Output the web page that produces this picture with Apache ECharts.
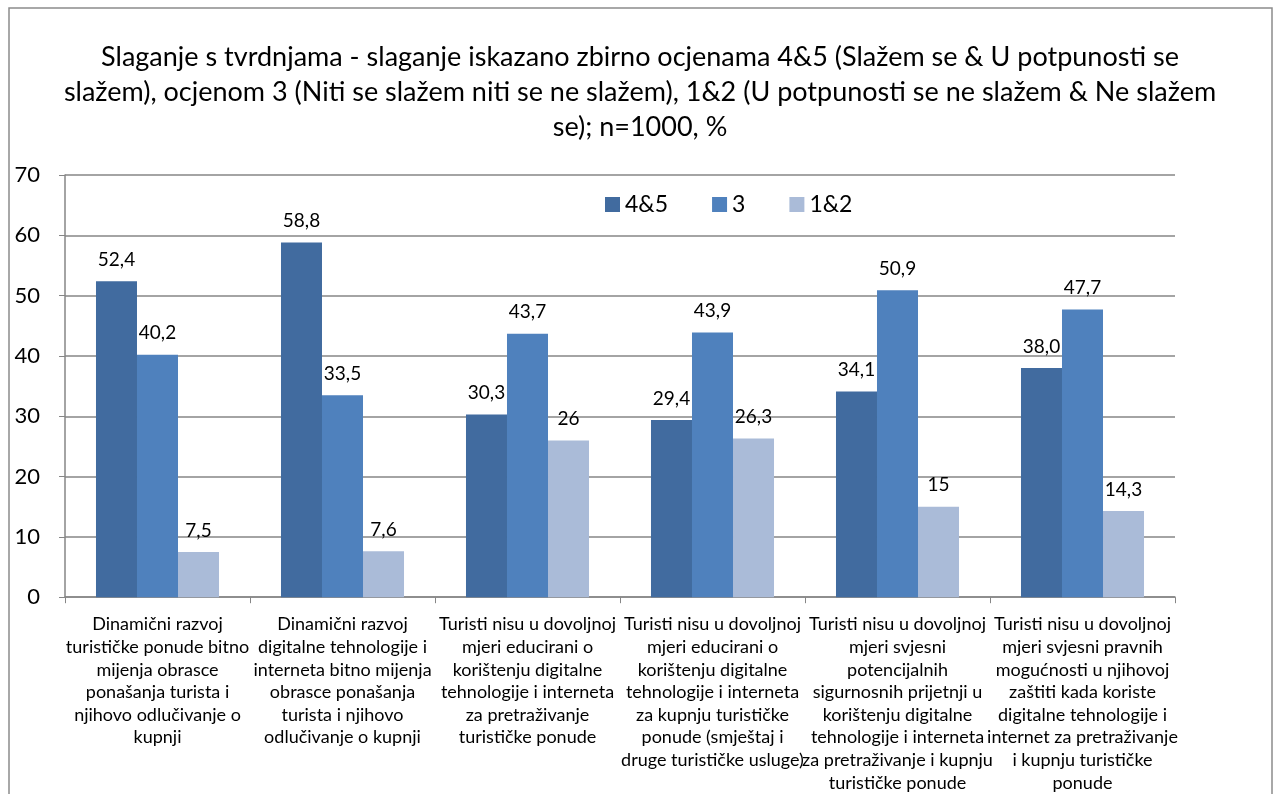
<!DOCTYPE html>
<html>
<head>
<meta charset="utf-8">
<script src="https://cdn.jsdelivr.net/npm/echarts@6/dist/echarts.min.js"></script>
<style>
  html, body { margin: 0; padding: 0; background: #fff; }
  #chart { width: 1280px; height: 794px; }
</style>
</head>
<body>
<div id="chart"></div>
<script>
// podaci s grafikona
const categories = [
  'Dinamični razvoj\nturističke ponude bitno\nmijenja obrasce\nponašanja turista i\nnjihovo odlučivanje o\nkupnji',
  'Dinamični razvoj\ndigitalne tehnologije i\ninterneta bitno mijenja\nobrasce ponašanja\nturista i njihovo\nodlučivanje o kupnji',
  'Turisti nisu u dovoljnoj\nmjeri educirani o\nkorištenju digitalne\ntehnologije i interneta\nza pretraživanje\nturističke ponude',
  'Turisti nisu u dovoljnoj\nmjeri educirani o\nkorištenju digitalne\ntehnologije i interneta\nza kupnju turističke\nponude (smještaj i\ndruge turističke usluge)',
  'Turisti nisu u dovoljnoj\nmjeri svjesni\npotencijalnih\nsigurnosnih prijetnji u\nkorištenju digitalne\ntehnologije i interneta\nza pretraživanje i kupnju\nturističke ponude',
  'Turisti nisu u dovoljnoj\nmjeri svjesni pravnih\nmogućnosti u njihovoj\nzaštiti kada koriste\ndigitalne tehnologije i\ninternet za pretraživanje\ni kupnju turističke\nponude'
];
const seriesNames = ['4&5', '3', '1&2'];
const values45 = [52.4, 58.8, 30.3, 29.4, 34.1, 38.0];
const values3 = [40.2, 33.5, 43.7, 43.9, 50.9, 47.7];
const values12 = [7.5, 7.6, 26, 26.3, 15, 14.3];
const labels45 = ['52,4', '58,8', '30,3', '29,4', '34,1', '38,0'];
const labels3 = ['40,2', '33,5', '43,7', '43,9', '50,9', '47,7'];
const labels12 = ['7,5', '7,6', '26', '26,3', '15', '14,3'];
const yTicks = { min: 0, max: 70, interval: 10 };

const FONT = 'Lato, "Open Sans", "Liberation Sans", sans-serif';
const colors = ['#416B9F', '#4F81BD', '#AABBD8'];

const chart = echarts.init(document.getElementById('chart'), null, { renderer: 'canvas' });

// pravi niz za jednu seriju
const makeSeries = (name, data, labels, color) => ({
  name: name,
  type: 'bar',
  data: data,
  barGap: '0%',
  barCategoryGap: '33.5%',
  itemStyle: { color: color },
  label: {
    show: true,
    position: 'top',
    distance: 12,
    fontFamily: FONT,
    fontSize: 19,
    color: '#000',
    formatter: (p) => labels[p.dataIndex]
  }
});

const option = {
  animation: false,
  textStyle: { fontFamily: FONT },
  graphic: [{
    type: 'rect',
    shape: { x: 9, y: 8, width: 1263, height: 800 },
    style: { fill: 'none', stroke: '#8c8c8c', lineWidth: 1.5 },
    silent: true
  }],
  title: {
    text: 'Slaganje s tvrdnjama - slaganje iskazano zbirno ocjenama 4&5 (Slažem se & U potpunosti se\nslažem), ocjenom 3 (Niti se slažem niti se ne slažem), 1&2 (U potpunosti se ne slažem & Ne slažem\nse); n=1000, %',
    left: 'center',
    top: 35,
    textStyle: {
      fontFamily: FONT,
      fontSize: 27,
      fontWeight: 'normal',
      color: '#000',
      lineHeight: 35,
      align: 'center'
    }
  },
  legend: {
    data: seriesNames,
    left: 600,
    top: 188,
    itemWidth: 15,
    itemHeight: 15,
    itemGap: 44,
    icon: 'rect',
    textStyle: { fontFamily: FONT, fontSize: 23, color: '#000' }
  },
  grid: { left: 65, right: 105, top: 175, bottom: 194 },
  xAxis: {
    type: 'category',
    data: categories,
    axisLine: { lineStyle: { color: '#868686', width: 1.5 } },
    axisTick: { show: true, length: 6, lineStyle: { color: '#868686' } },
    axisLabel: {
      interval: 0,
      margin: 16,
      fontFamily: FONT,
      fontSize: 18,
      lineHeight: 22.6,
      color: '#000',
      align: 'center'
    }
  },
  yAxis: {
    type: 'value',
    min: yTicks.min,
    max: yTicks.max,
    interval: yTicks.interval,
    axisLine: { show: true, lineStyle: { color: '#868686', width: 1.5 } },
    axisTick: { show: true, length: 6, lineStyle: { color: '#868686' } },
    splitLine: { lineStyle: { color: '#868686', width: 1.5 } },
    axisLabel: { fontFamily: FONT, fontSize: 22, color: '#000', margin: 25 }
  },
  series: [
    makeSeries(seriesNames[0], values45, labels45, colors[0]),
    makeSeries(seriesNames[1], values3, labels3, colors[1]),
    makeSeries(seriesNames[2], values12, labels12, colors[2])
  ]
};

chart.setOption(option);
</script>
</body>
</html>
